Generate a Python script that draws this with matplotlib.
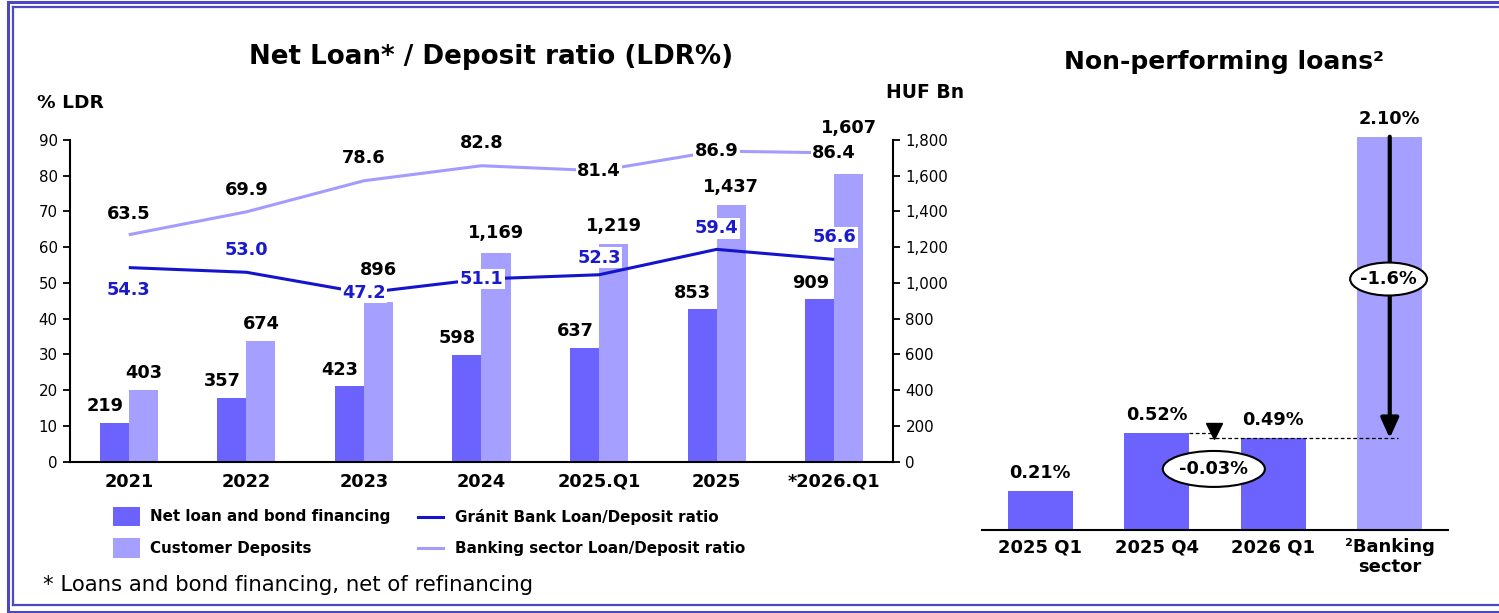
import matplotlib
matplotlib.use("Agg")
import matplotlib.pyplot as plt
from matplotlib.patches import Rectangle, Ellipse
from matplotlib.lines import Line2D
from matplotlib.ticker import FuncFormatter

# ---------------- data ----------------
categories = ["2021", "2022", "2023", "2024", "2025.Q1", "2025", "*2026.Q1"]
net_loans = [219, 357, 423, 598, 637, 853, 909]
deposits = [403, 674, 896, 1169, 1219, 1437, 1607]
granit_ldr = [54.3, 53.0, 47.2, 51.1, 52.3, 59.4, 56.6]
sector_ldr = [63.5, 69.9, 78.6, 82.8, 81.4, 86.9, 86.4]

npl_categories = ["2025 Q1", "2025 Q4", "2026 Q1", "\u00b2Banking\nsector"]
npl_values = [0.21, 0.52, 0.49, 2.10]
npl_change_q = -0.03
npl_change_sector = -1.6

# ---------------- style ----------------
W, H = 1499, 613
DARK = "#6C63FF"
LIGHT = "#A59FFF"
LINE_DARK = "#1414CC"
LINE_LIGHT = "#A29CFF"
TXT_BLUE = "#1a1acc"
BORDER = "#4B48C4"
plt.rcParams["font.family"] = ["DejaVu Sans"]

fig = plt.figure(figsize=(W / 100, H / 100), dpi=100)


def fx(x):
    return x / W


def fy(y):
    return 1 - y / H


# ---------------- border ----------------
for (xs, ys, lw) in [
    ([8, 8], [2, 612], 2.2),
    ([13, 13], [7, 605], 1.6),
    ([8, W], [2, 2], 2.2),
    ([13, W], [7, 7], 1.6),
    ([13, W], [605, 605], 1.6),
    ([8, W], [611.5, 611.5], 2.2),
]:
    fig.add_artist(Line2D([fx(v) for v in xs], [fy(v) for v in ys],
                          transform=fig.transFigure, color=BORDER, lw=lw))

# ---------------- left chart ----------------
axL = fig.add_axes([fx(70), fy(461.7), (893 - 70) / W, 321.7 / H])
axB = axL.twinx()
axL.set_zorder(axB.get_zorder() + 1)
axL.patch.set_visible(False)

x = list(range(len(categories)))
bw = 0.247
xd = [i - bw / 2 for i in x]
xl = [i + bw / 2 for i in x]
axB.bar(xd, net_loans, width=bw, color=DARK, edgecolor="none")
axB.bar(xl, deposits, width=bw, color=LIGHT, edgecolor="none")
axB.set_ylim(0, 1800)
axB.set_yticks(range(0, 1801, 200))
axB.yaxis.set_major_formatter(FuncFormatter(lambda v, p: f"{int(v):,}"))

axL.plot(x, sector_ldr, color=LINE_LIGHT, lw=2.2, solid_capstyle="butt")
axL.plot(x, granit_ldr, color=LINE_DARK, lw=2.2, solid_capstyle="butt")
axL.set_ylim(0, 90)
axL.set_yticks(range(0, 91, 10))
axL.set_xlim(-0.5, len(categories) - 0.5)
axL.set_xticks(x)
axL.set_xticklabels(categories, fontsize=12.8, fontweight="bold")
axL.tick_params(axis="x", length=0, pad=8)

for a in (axL, axB):
    a.spines["top"].set_visible(False)
    for s in a.spines.values():
        s.set_linewidth(1.5)
axL.spines["right"].set_visible(False)
axB.spines["left"].set_visible(False)
axB.spines["bottom"].set_visible(False)
axL.tick_params(axis="y", labelsize=10.8, length=5, width=1.3, pad=4)
axB.tick_params(axis="y", labelsize=10.8, length=5, width=1.3, pad=4)

px = 0.72  # points per pixel

# bar labels
for i, v in enumerate(net_loans):
    axB.annotate(f"{v:,}", (xd[i], v), xytext=(-9.5 * px, 16.5 * px),
                 textcoords="offset points", ha="center", va="center",
                 fontsize=12.8, fontweight="bold")
light_off = [17, 17, 32, 20, 18, 18, 46]
for i, v in enumerate(deposits):
    axB.annotate(f"{v:,}", (xl[i], v), xytext=(0, light_off[i] * px),
                 textcoords="offset points", ha="center", va="center",
                 fontsize=12.8, fontweight="bold")

# line labels
sector_off = [21, 22, 23, 23, 0, 0, 0]
for i, v in enumerate(sector_ldr):
    kw = {}
    if sector_off[i] == 0:
        kw["bbox"] = dict(boxstyle="square,pad=0.08", fc="white", ec="none")
    axL.annotate(f"{v:.1f}", (i, v), xytext=(0, sector_off[i] * px),
                 textcoords="offset points", ha="center", va="center",
                 fontsize=12.8, fontweight="bold", color="black", **kw)

granit_off = [-22, 22, 0, 0, 17, 21, 22]
granit_box = [False, False, True, True, True, True, True]
for i, v in enumerate(granit_ldr):
    kw = {}
    if granit_box[i]:
        kw["bbox"] = dict(boxstyle="square,pad=0.08", fc="white", ec="none")
    axL.annotate(f"{v:.1f}", (i, v), xytext=(0, granit_off[i] * px),
                 textcoords="offset points", ha="center", va="center",
                 fontsize=12.8, fontweight="bold", color=TXT_BLUE, **kw)

# titles and axis names
fig.text(fx(491), fy(57), "Net Loan* / Deposit ratio (LDR%)", ha="center",
         va="center", fontsize=18.8, fontweight="bold")
fig.text(fx(37), fy(103), "% LDR", ha="left", va="center", fontsize=13.3,
         fontweight="bold")
fig.text(fx(925), fy(93), "HUF Bn", ha="center", va="center", fontsize=13.5,
         fontweight="bold")

# legend
fig.add_artist(Rectangle((fx(113), fy(526)), 27 / W, 19 / H, transform=fig.transFigure,
                         color=DARK, ec="none"))
fig.add_artist(Rectangle((fx(113), fy(557.5)), 27 / W, 19.5 / H, transform=fig.transFigure,
                         color=LIGHT, ec="none"))
fig.add_artist(Line2D([fx(418), fx(443)], [fy(517), fy(517)], transform=fig.transFigure,
                      color=LINE_DARK, lw=2.2))
fig.add_artist(Line2D([fx(418), fx(443)], [fy(548), fy(548)], transform=fig.transFigure,
                      color=LINE_LIGHT, lw=2.2))
leg_kw = dict(ha="left", va="center", fontsize=10.9, fontweight="bold")
fig.text(fx(150), fy(517), "Net loan and bond financing", **leg_kw)
fig.text(fx(150), fy(548), "Customer Deposits", **leg_kw)
fig.text(fx(455), fy(517), "Gránit Bank Loan/Deposit ratio", **leg_kw)
fig.text(fx(455), fy(548), "Banking sector Loan/Deposit ratio", **leg_kw)

fig.text(fx(43), fy(585), "* Loans and bond financing, net of refinancing",
         ha="left", va="center", fontsize=15.3)

# ---------------- right chart ----------------
axR = fig.add_axes([fx(982), fy(530), 466 / W, 393.3 / H])
xr = list(range(len(npl_categories)))
bwr = 0.56
axR.bar(xr, npl_values, width=bwr, color=[DARK, DARK, DARK, LIGHT], edgecolor="none")
axR.set_xlim(-0.5, len(npl_categories) - 0.5)
axR.set_ylim(0, max(npl_values))
for s in ("top", "left", "right"):
    axR.spines[s].set_visible(False)
axR.spines["bottom"].set_linewidth(1.5)
axR.set_yticks([])
axR.set_xticks(xr)
axR.set_xticklabels(npl_categories, fontsize=13, fontweight="bold", linespacing=1.1)
axR.tick_params(axis="x", length=0, pad=6)

for i, v in enumerate(npl_values):
    axR.annotate(f"{v:.2f}%", (i, v), xytext=(0, 18 * px), textcoords="offset points",
                 ha="center", va="center", fontsize=12.8, fontweight="bold",
                 annotation_clip=False)

# dashed guides
axR.plot([1 + bwr / 2, 1.5], [npl_values[1]] * 2, color="black", lw=0.9,
         ls=(0, (3, 2)), clip_on=False)
axR.plot([1.45, 3.07], [npl_values[2]] * 2, color="black", lw=0.9,
         ls=(0, (3, 2)), clip_on=False, zorder=3)
axR.plot([1.49], [0.531], marker="v", color="black", markersize=11, clip_on=False)

# big arrow
axR.annotate("", xy=(3, npl_values[2]), xytext=(3, npl_values[3]),
             arrowprops=dict(arrowstyle="-|>,head_length=0.6,head_width=0.27",
                             mutation_scale=20, lw=3, color="black",
                             shrinkA=0, shrinkB=0), annotation_clip=False)

axR.add_patch(Ellipse((2.99, 1.34), 0.66, 0.176, fc="white", ec="black", lw=1.5,
                      zorder=5, clip_on=False))
axR.text(2.99, 1.34, f"{npl_change_sector:.1f}%", ha="center", va="center",
         fontsize=12.8, fontweight="bold", zorder=6)
axR.add_patch(Ellipse((1.49, 0.326), 0.876, 0.192, fc="white", ec="black", lw=1.5,
                      zorder=5, clip_on=False))
axR.text(1.49, 0.326, f"{npl_change_q:.2f}%", ha="center", va="center",
         fontsize=12.8, fontweight="bold", zorder=6)

fig.text(fx(1224), fy(62), "Non-performing loans\u00b2", ha="center", va="center",
         fontsize=18, fontweight="bold")

fig.savefig("out.png", dpi=100)
